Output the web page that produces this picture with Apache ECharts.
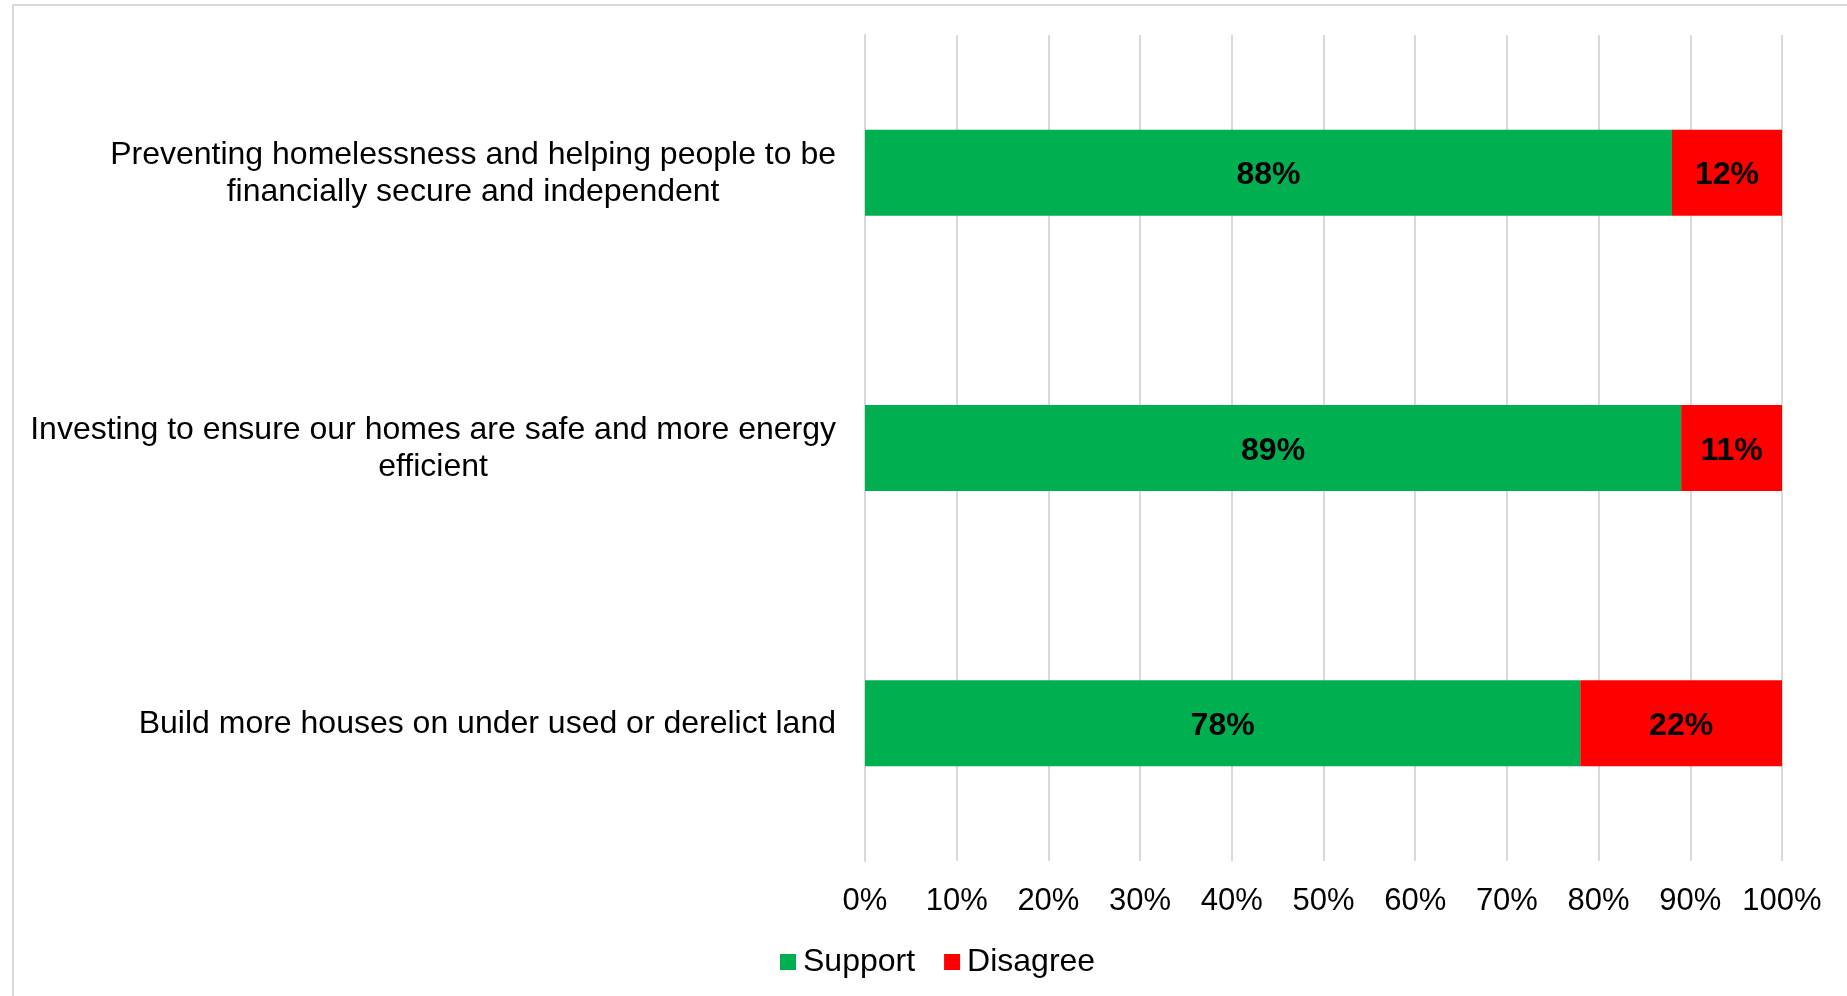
<!DOCTYPE html>
<html>
<head>
<meta charset="utf-8">
<script src="https://cdn.jsdelivr.net/npm/echarts@6/dist/echarts.min.js"></script>
<style>
html,body{margin:0;padding:0;background:#fff;}
#chart{width:1847px;height:996px;}
</style>
</head>
<body>
<div id="chart"></div>
<script>
var categories = [
  "Preventing homelessness and helping people to be\nfinancially secure and independent",
  "Investing to ensure our homes are safe and more energy\nefficient",
  "Build more houses on under used or derelict land"
];
var supportValues = [88, 89, 78];
var disagreeValues = [12, 11, 22];
var tickLabels = ["0%","10%","20%","30%","40%","50%","60%","70%","80%","90%","100%"];

var FONT = '"Liberation Sans", Arial, sans-serif';
var chart = echarts.init(document.getElementById('chart'), null, {renderer: 'canvas'});

var option = {
  animation: false,
  backgroundColor: '#ffffff',
  textStyle: {fontFamily: FONT, color: '#000'},
  graphic: [{
    type: 'rect',
    shape: {x: 13, y: 5, width: 3000, height: 3000},
    style: {fill: 'none', stroke: '#d9d9d9', lineWidth: 2},
    silent: true, z: -10
  }],
  legend: {
    data: ['Support', 'Disagree'],
    left: 775,
    top: 941,
    icon: 'rect',
    itemWidth: 16,
    itemHeight: 16,
    itemGap: 29,
    textStyle: {fontFamily: FONT, fontSize: 32, color: '#000', padding: [0, 0, 0, 2]}
  },
  grid: {left: 865, right: 65, top: 35, bottom: 135, containLabel: false},
  xAxis: {
    type: 'value',
    min: 0, max: 100, interval: 10,
    axisLine: {show: false},
    axisTick: {show: false},
    splitLine: {show: true, lineStyle: {color: '#d9d9d9', width: 2}},
    axisLabel: {
      fontFamily: FONT, fontSize: 31, color: '#000', margin: 25,
      formatter: function (v) { return tickLabels[Math.round(v / 10)]; }
    }
  },
  yAxis: {
    type: 'category',
    data: categories,
    inverse: true,
    axisLine: {show: true, lineStyle: {color: '#d9d9d9', width: 2}},
    axisTick: {show: false},
    axisLabel: {
      margin: 29,
      align: 'right',
      fontFamily: FONT, fontSize: 32, color: '#000',
      formatter: function (v) {
        return v.split('\n').map(function (l) { return '{c|' + l + '}'; }).join('\n');
      },
      rich: {c: {align: 'center', fontFamily: FONT, fontSize: 32, lineHeight: 37, color: '#000', padding: [2, 0, 0, 0]}}
    }
  },
  series: [
    {
      name: 'Support', type: 'bar', stack: 'total', barWidth: 86,
      itemStyle: {color: '#00B050'},
      label: {show: true, position: 'inside', offset: [0, 3], fontFamily: FONT, fontSize: 32, fontWeight: 'bold', color: '#000',
        formatter: function (p) { return p.value + '%'; }},
      data: supportValues
    },
    {
      name: 'Disagree', type: 'bar', stack: 'total', barWidth: 86,
      itemStyle: {color: '#FF0000'},
      label: {show: true, position: 'inside', offset: [0, 3], fontFamily: FONT, fontSize: 32, fontWeight: 'bold', color: '#000',
        formatter: function (p) { return p.value + '%'; }},
      data: disagreeValues
    }
  ]
};
chart.setOption(option);
</script>
</body>
</html>
